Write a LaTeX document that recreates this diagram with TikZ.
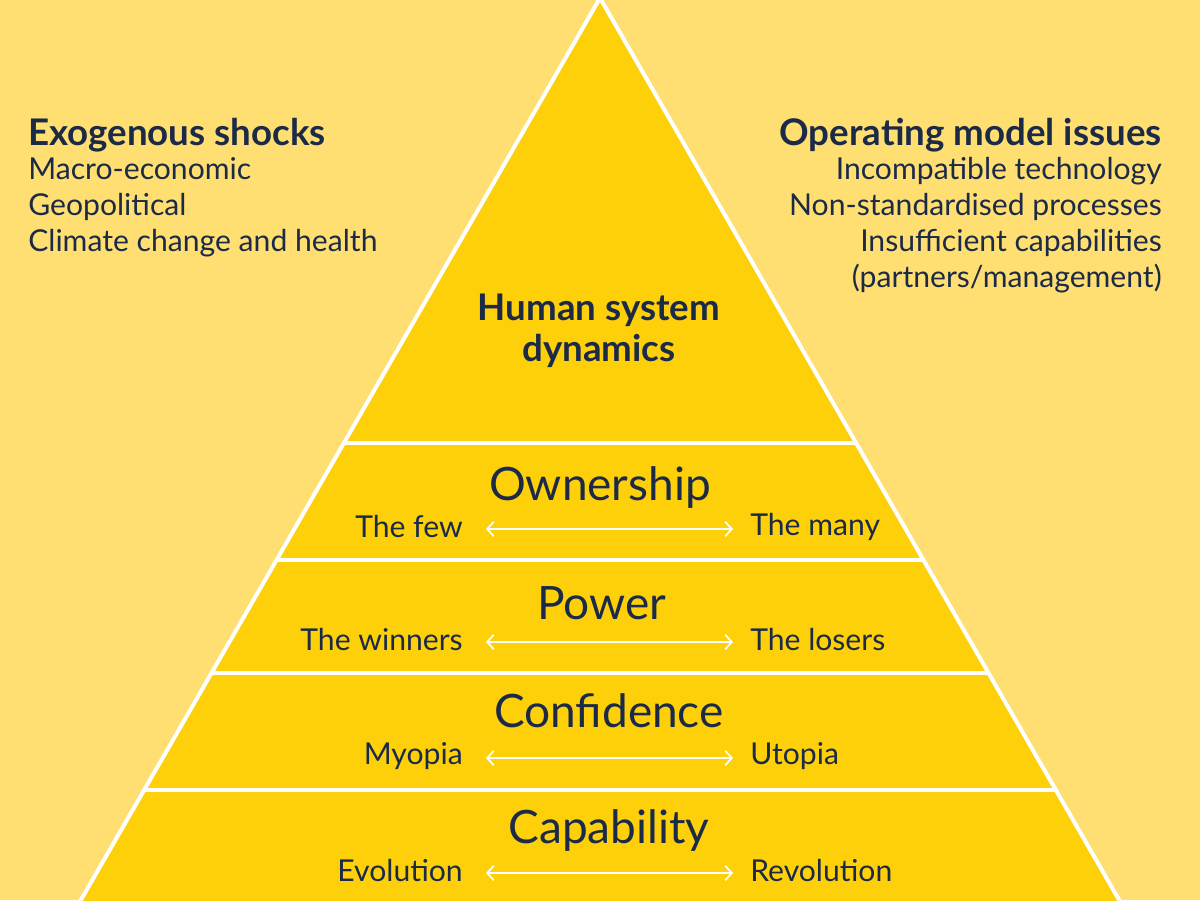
\documentclass[tikz,border=0pt]{standalone}
\usepackage{fontspec}
\setmainfont{Lato}
\usetikzlibrary{arrows.meta}
\definecolor{bg}{HTML}{FFDE72}
\definecolor{pyr}{HTML}{FDD00A}
\definecolor{navy}{HTML}{1B2A47}
\begin{document}
\begin{tikzpicture}[x=0.75pt,y=-0.75pt,
  ttl/.style={text=navy,font=\fontsize{34.5}{38}\selectfont},
  lbl/.style={text=navy,inner sep=0pt,font=\fontsize{22.6}{26}\selectfont},
  head/.style={text=navy,inner sep=0pt,font=\bfseries\fontsize{27.5}{31}\selectfont},
  body/.style={text=navy,inner sep=0pt,font=\fontsize{22.6}{27}\selectfont},
  dbl/.style={draw=white,line width=1.3pt,{Straight Barb[length=5pt,width=11pt]}-{Straight Barb[length=5pt,width=11pt]}}]
\fill[bg] (0,0) rectangle (1200,900);
\useasboundingbox (0,0) rectangle (1200,900);
\fill[pyr] (600,-2) -- (78,905) -- (1122,905) -- cycle;
\draw[white,line width=3pt] (600,-2) -- (78,905) (600,-2) -- (1122,905);
\foreach \y in {443,560,673,790}
  \draw[white,line width=3pt] ({600-0.578*\y},\y) -- ({600+0.578*\y},\y);
\node[head,anchor=west] (exo) at (28,135) {Exogenous shocks};
\node[body,anchor=north west,align=left] (exob) at (28,157) {Macro-economic\\Geopolitical\\Climate change and health};
\node[head,anchor=east] (op) at (1162,135) {Operating model issues};
\node[body,anchor=north east,align=right] (opb) at (1162,157) {Incompatible technology\\Non-standardised processes\\Insufficient capabilities\\(partners/management)};
\node[head,align=center] (hsd) at (599,331) {Human system\\dynamics};
\node[ttl] (t1) at (600,487) {Ownership};
\node[ttl] (t2) at (602,603) {Power};
\node[ttl] (t3) at (609,711) {Confidence};
\node[ttl] (t4) at (609,830) {Capability};
\foreach \yy/\l/\r/\n in {527/The few/The many/a,640/The winners/The losers/b,756/Myopia/Utopia/c,871/Evolution/Revolution/d}{
  \node[lbl,anchor=east] (l\n) at (463,\yy) {\l};
  \node[lbl,anchor=west] (r\n) at (750,\yy) {\r};
  \coordinate (ls\n) at (486,\yy+2);
  \coordinate (rs\n) at (733,\yy+2);
  \draw[dbl] (ls\n) -- (rs\n);
}
\end{tikzpicture}
\end{document}
